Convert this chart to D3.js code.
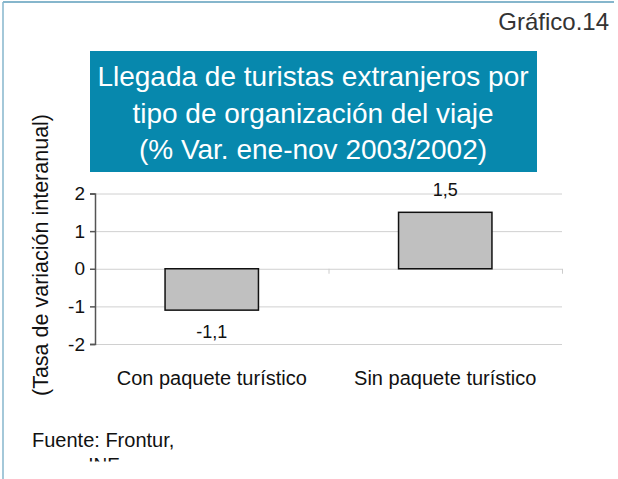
<!DOCTYPE html>
<html lang="es">
<head>
<meta charset="UTF-8">
<title>Gráfico 14</title>
<script src="https://cdn.jsdelivr.net/npm/d3@7"></script>
<style>
  body { margin: 0; background: #fff; }
  svg text { font-family: "Liberation Sans", Arial, sans-serif; }
  .grid line { stroke: #d0d0d0; }
  .grid path { display: none; }
</style>
</head>
<body>
<div id="chart"></div>
<script>
// data
var categories = ["Con paquete turístico", "Sin paquete turístico"];
var values = [-1.1, 1.5];
var valueLabels = ["-1,1", "1,5"];
var yTicks = [-2, -1, 0, 1, 2];
var titleLines = ["Llegada de turistas extranjeros por",
                  "tipo de organización del viaje",
                  "(% Var. ene-nov 2003/2002)"];

var width = 618, height = 479;

var svg = d3.select("#chart").append("svg")
    .attr("width", width)
    .attr("height", height);

// frame
svg.append("line").attr("x1", 3).attr("y1", 2).attr("x2", 614).attr("y2", 2)
    .style("stroke", "#86b6cc").style("stroke-width", 2);
svg.append("line").attr("x1", 3).attr("y1", 2).attr("x2", 3).attr("y2", height)
    .style("stroke", "#86b6cc").style("stroke-width", 1.5);

svg.append("text")
    .attr("x", 609).attr("y", 30)
    .attr("text-anchor", "end")
    .style("font-size", "24px").style("fill", "#333")
    .text("Gráfico.14");

// title box
svg.append("rect")
    .attr("x", 90).attr("y", 51).attr("width", 447).attr("height", 121)
    .style("fill", "#0788ad");

svg.selectAll(".title").data(titleLines)
  .enter().append("text")
    .attr("class", "title")
    .attr("x", 313)
    .attr("y", (d, i) => 86 + i * 36.5)
    .attr("text-anchor", "middle")
    .style("font-size", "28px").style("fill", "#fff")
    .text(d => d);

// scales
var x = d3.scaleBand()
    .domain(categories)
    .range([95, 562])
    .paddingInner(0.6)
    .paddingOuter(0.3);

var y = d3.scaleLinear()
    .domain([-2, 2])
    .range([344, 193.5]);

// grid
svg.append("g").attr("class", "grid")
    .attr("transform", "translate(95,0)")
    .call(d3.axisRight(y).tickValues(yTicks).tickSize(562 - 95).tickFormat(""));

// y axis
var yAxisG = svg.append("g")
    .attr("transform", "translate(95,0)")
    .call(d3.axisLeft(y).tickValues(yTicks).tickSize(5).tickSizeOuter(5)
      .tickFormat(d => d));
yAxisG.select(".domain").style("stroke", "#555").style("stroke-width", 1.5);
yAxisG.selectAll(".tick line").style("stroke", "#555").style("stroke-width", 1.5);
yAxisG.selectAll(".tick text")
    .attr("x", -10)
    .style("font-size", "19px").style("fill", "#111")
    .style("font-family", "Liberation Sans, Arial, sans-serif");

// x axis at zero
var xBoundary = d3.scaleLinear().domain([0, 2]).range([95, 562]);
var xAxisG = svg.append("g")
    .attr("transform", "translate(0," + y(0) + ")")
    .call(d3.axisBottom(xBoundary).tickValues([1, 2]).tickSize(5).tickFormat(""));
xAxisG.select(".domain").remove();
xAxisG.selectAll(".tick line").style("stroke", "#ccc");

// category labels
svg.selectAll(".cat").data(categories)
  .enter().append("text")
    .attr("class", "cat")
    .attr("x", d => x(d) + x.bandwidth() / 2)
    .attr("y", 385)
    .attr("text-anchor", "middle")
    .style("font-size", "20px").style("fill", "#111")
    .text(d => d);

// bars
svg.selectAll(".bar").data(values)
  .enter().append("rect")
    .attr("class", "bar")
    .attr("x", (d, i) => x(categories[i]))
    .attr("y", d => y(Math.max(0, d)))
    .attr("width", x.bandwidth())
    .attr("height", d => Math.abs(y(d) - y(0)))
    .style("fill", "#c0c0c0")
    .style("stroke", "#111")
    .style("stroke-width", 1.5);

// value labels
svg.selectAll(".vlab").data(values)
  .enter().append("text")
    .attr("class", "vlab")
    .attr("x", (d, i) => x(categories[i]) + x.bandwidth() / 2)
    .attr("y", d => d < 0 ? y(d) + 28 : y(d) - 16)
    .attr("text-anchor", "middle")
    .style("font-size", "18px").style("fill", "#111")
    .text((d, i) => valueLabels[i]);

// y axis title
svg.append("text")
    .attr("transform", "translate(48,255) rotate(-90)")
    .attr("text-anchor", "middle")
    .style("font-size", "21.5px").style("fill", "#111")
    .text("(Tasa de variación interanual)");

// source (second line is cut off in the original)
svg.append("text")
    .attr("x", 32).attr("y", 447)
    .style("font-size", "20px").style("fill", "#111")
    .text("Fuente: Frontur,");

svg.append("clipPath").attr("id", "srcclip")
  .append("rect").attr("x", 0).attr("y", 450).attr("width", 300).attr("height", 11.5);
svg.append("text")
    .attr("x", 104).attr("y", 471)
    .attr("text-anchor", "middle")
    .attr("clip-path", "url(#srcclip)")
    .style("font-size", "19px").style("fill", "#111")
    .text("INE");
</script>
</body>
</html>
